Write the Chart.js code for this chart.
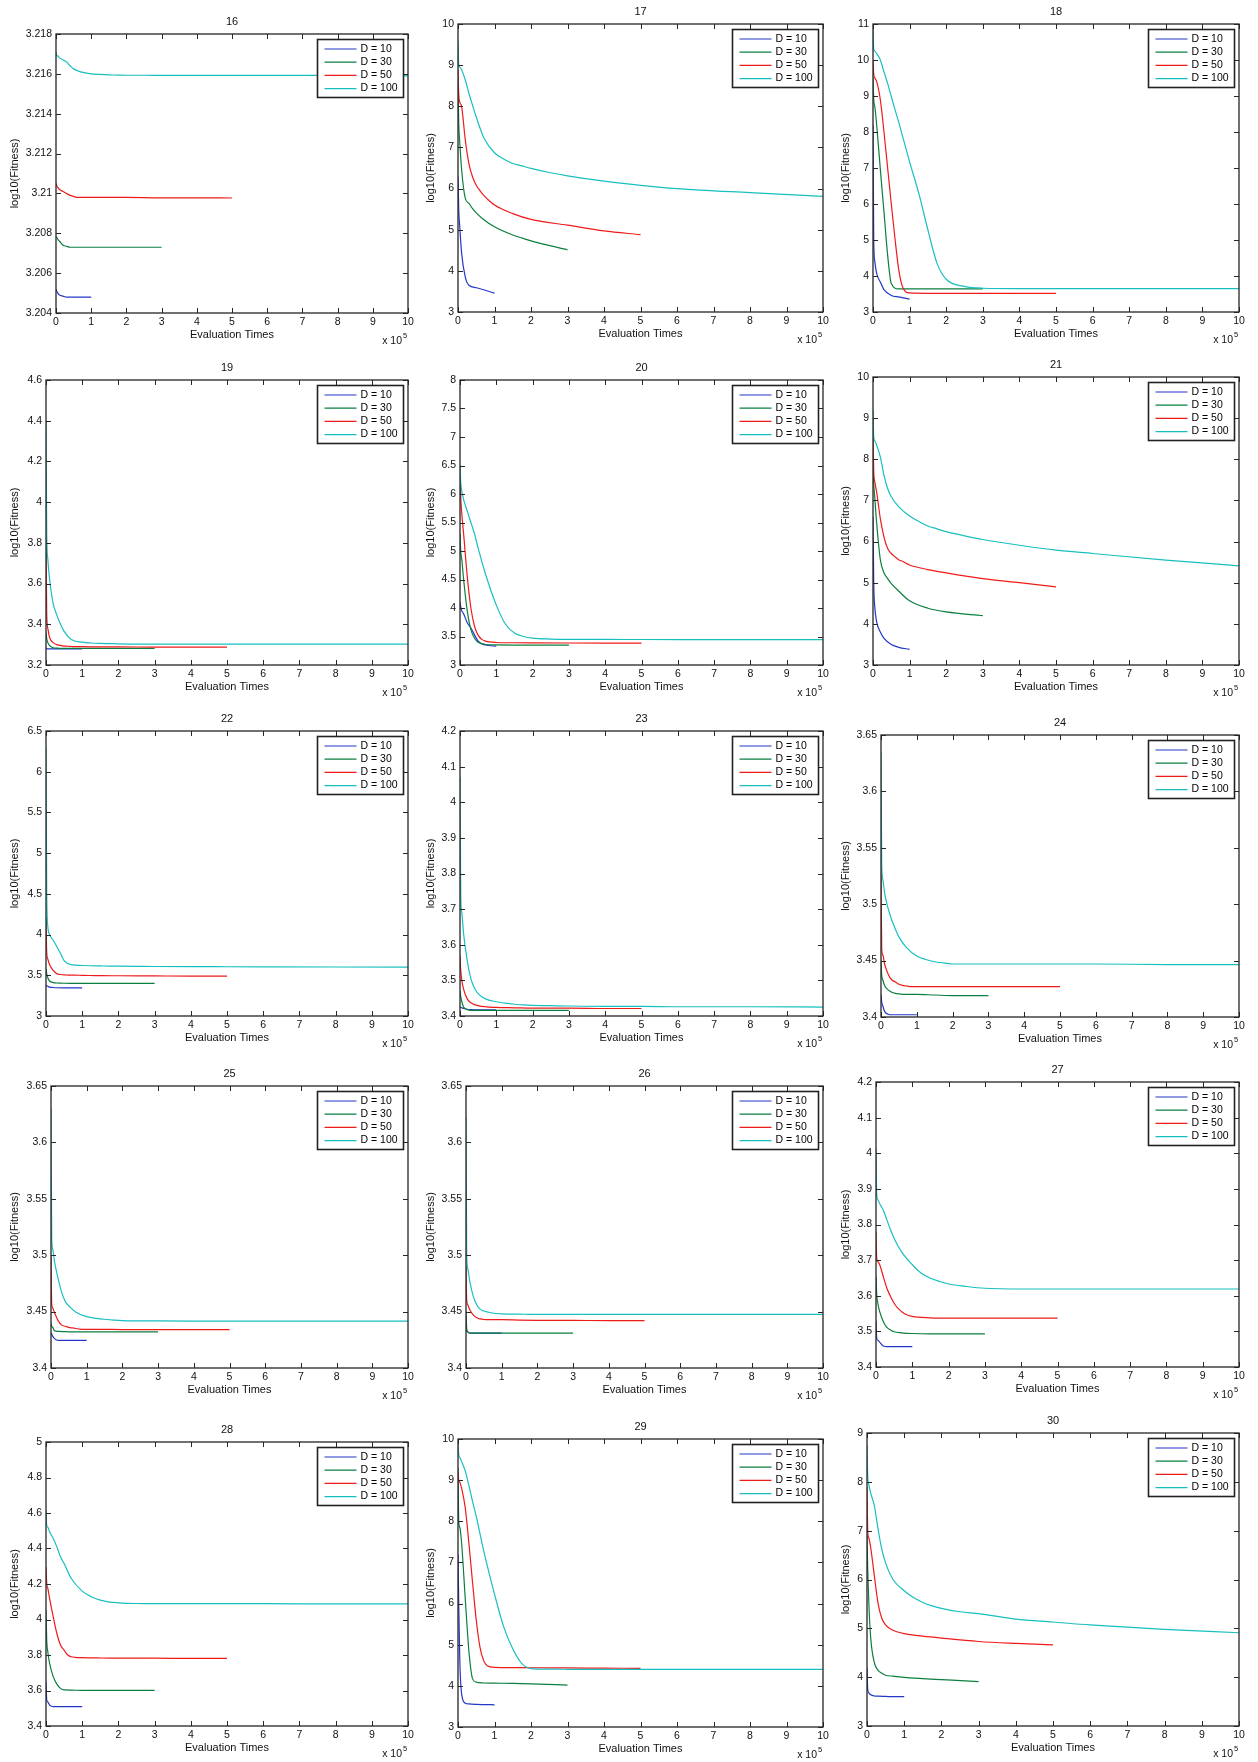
<!DOCTYPE html>
<html>
<head>
<meta charset="utf-8">
<script src="https://cdn.jsdelivr.net/npm/chart.js@4.4.0/dist/chart.umd.min.js"></script>
<style>
  body { margin: 0; background: #fff; }
  #fig { position: relative; width: 1258px; height: 1762px; overflow: hidden; }
  #fig canvas { position: absolute; }
</style>
</head>
<body>
<div id="fig"></div>
<script>
// sample points on the x axis, in units of 10^5 evaluations
const x10 = [0, 0.02, 0.05, 0.1, 0.2, 0.3, 0.5, 0.7, 1];
const x30 = [0, 0.02, 0.05, 0.1, 0.2, 0.3, 0.4, 0.5, 0.7, 1, 1.5, 2, 3];
const x50 = [0, 0.02, 0.05, 0.1, 0.2, 0.3, 0.4, 0.5, 0.6, 0.7, 0.8, 1, 1.5, 2, 3, 4, 5];
const x100 = [0, 0.02, 0.05, 0.1, 0.2, 0.3, 0.4, 0.5, 0.7, 1, 1.25, 1.5, 1.75, 2, 2.5, 3, 4, 5, 6, 8, 10];
const xTicks = [0, 1, 2, 3, 4, 5, 6, 7, 8, 9, 10];

const seriesLabels = ['D = 10', 'D = 30', 'D = 50', 'D = 100'];

// log10(Fitness)
const f16_d10 = [3.2052, 3.2051, 3.2050, 3.2049, 3.20485, 3.2048, 3.2048, 3.2048, 3.2048];
const f16_d30 = [3.2078, 3.2078, 3.2077, 3.2076, 3.2074, 3.20735, 3.2073, 3.2073, 3.2073, 3.2073, 3.2073, 3.2073, 3.2073];
const f16_d50 = [3.2105, 3.2104, 3.2103, 3.2102, 3.2101, 3.2100, 3.2099, 3.20985, 3.2098, 3.2098, 3.2098, 3.2098, 3.2098, 3.2098, 3.20978, 3.20978, 3.20977];
const f16_d100 = [3.2171, 3.2169, 3.2169, 3.2168, 3.2167, 3.2166, 3.2164, 3.21625, 3.2161, 3.2160, 3.21597, 3.21595, 3.21594, 3.21593, 3.21593, 3.21592, 3.21592, 3.21592, 3.21592, 3.21592, 3.2159];
const yt16 = [3.204, 3.206, 3.208, 3.21, 3.212, 3.214, 3.216, 3.218];

const f17_d10 = [6.3, 5.5, 5.05, 4.42, 3.85, 3.65, 3.59, 3.54, 3.46];
const f17_d30 = [8.5, 7.6, 7.1, 6.45, 5.76, 5.64, 5.51, 5.41, 5.25, 5.07, 4.87, 4.73, 4.51];
const f17_d50 = [8.9, 8.3, 8.1, 7.99, 7.18, 6.6, 6.28, 6.08, 5.95, 5.84, 5.75, 5.6, 5.39, 5.25, 5.11, 4.97, 4.88];
const f17_d100 = [9.6, 9.0, 8.95, 8.88, 8.64, 8.31, 8.02, 7.74, 7.25, 6.87, 6.72, 6.61, 6.55, 6.49, 6.39, 6.31, 6.18, 6.08, 6.0, 5.9, 5.81];
const yt17 = [3, 4, 5, 6, 7, 8, 9, 10];

const f18_d10 = [8.2, 5.0, 4.4, 4.07, 3.83, 3.62, 3.46, 3.42, 3.36];
const f18_d30 = [9.5, 8.9, 8.7, 8.2, 6.97, 5.78, 4.58, 3.79, 3.64, 3.64, 3.64, 3.64, 3.64];
const f18_d50 = [10.0, 9.6, 9.5, 9.4, 8.9, 8.0, 7.0, 6.0, 5.05, 4.2, 3.72, 3.53, 3.52, 3.52, 3.52, 3.52, 3.52];
const f18_d100 = [10.9, 10.3, 10.25, 10.18, 10.0, 9.67, 9.35, 8.98, 8.28, 7.17, 6.3, 5.28, 4.35, 3.91, 3.71, 3.66, 3.65, 3.65, 3.65, 3.65, 3.65];
const yt18 = [3, 4, 5, 6, 7, 8, 9, 10, 11];

const f19_d10 = [3.285, 3.28, 3.279, 3.279, 3.279, 3.279, 3.279, 3.279, 3.279];
const f19_d30 = [3.36, 3.33, 3.31, 3.295, 3.285, 3.283, 3.282, 3.282, 3.282, 3.282, 3.282, 3.282, 3.282];
const f19_d50 = [3.82, 3.45, 3.38, 3.335, 3.31, 3.3, 3.296, 3.293, 3.292, 3.291, 3.29, 3.29, 3.289, 3.289, 3.288, 3.288, 3.288];
const f19_d100 = [4.4, 3.85, 3.72, 3.62, 3.5, 3.445, 3.4, 3.365, 3.325, 3.312, 3.308, 3.306, 3.305, 3.304, 3.303, 3.303, 3.303, 3.303, 3.303, 3.303, 3.303];
const yt19 = [3.2, 3.4, 3.6, 3.8, 4, 4.2, 4.4, 4.6];

const f20_d10 = [4.1, 4.02, 3.95, 3.9, 3.74, 3.65, 3.42, 3.35, 3.33];
const f20_d30 = [5.3, 5.0, 4.85, 4.5, 3.95, 3.62, 3.47, 3.4, 3.36, 3.352, 3.35, 3.35, 3.35];
const f20_d50 = [6.3, 5.95, 5.65, 5.3, 4.55, 4.0, 3.68, 3.52, 3.45, 3.42, 3.405, 3.395, 3.39, 3.388, 3.386, 3.385, 3.384];
const f20_d100 = [6.5, 6.2, 6.05, 5.9, 5.7, 5.5, 5.3, 5.05, 4.6, 4.05, 3.72, 3.56, 3.5, 3.47, 3.455, 3.45, 3.448, 3.447, 3.446, 3.445, 3.445];
const yt20 = [3, 3.5, 4, 4.5, 5, 5.5, 6, 6.5, 7, 7.5, 8];

const f21_d10 = [6.6, 5.0, 4.4, 4.05, 3.8, 3.65, 3.5, 3.43, 3.38];
const f21_d30 = [7.7, 7.4, 7.05, 6.45, 5.56, 5.24, 5.1, 4.98, 4.8, 4.56, 4.38, 4.29, 4.2];
const f21_d50 = [8.6, 7.7, 7.45, 7.2, 6.56, 6.11, 5.83, 5.71, 5.63, 5.56, 5.52, 5.43, 5.32, 5.24, 5.1, 5.0, 4.9];
const f21_d100 = [9.2, 8.54, 8.45, 8.34, 8.06, 7.61, 7.29, 7.09, 6.85, 6.62, 6.49, 6.38, 6.31, 6.24, 6.14, 6.05, 5.91, 5.79, 5.71, 5.55, 5.41];
const yt21 = [3, 4, 5, 6, 7, 8, 9, 10];

const f22_d10 = [3.38, 3.37, 3.365, 3.355, 3.35, 3.347, 3.345, 3.345, 3.345];
const f22_d30 = [3.58, 3.52, 3.47, 3.43, 3.41, 3.405, 3.403, 3.402, 3.401, 3.4, 3.4, 3.4, 3.4];
const f22_d50 = [4.2, 3.78, 3.7, 3.63, 3.56, 3.52, 3.51, 3.505, 3.503, 3.502, 3.501, 3.5, 3.495, 3.494, 3.492, 3.49, 3.49];
const f22_d100 = [6.3, 4.5, 4.1, 4.0, 3.93, 3.85, 3.77, 3.68, 3.63, 3.62, 3.617, 3.615, 3.613, 3.612, 3.61, 3.608, 3.606, 3.605, 3.604, 3.602, 3.6];
const yt22 = [3, 3.5, 4, 4.5, 5, 5.5, 6, 6.5];

const f23_d10 = [3.425, 3.424, 3.423, 3.421, 3.419, 3.418, 3.417, 3.417, 3.417];
const f23_d30 = [3.47, 3.455, 3.44, 3.425, 3.418, 3.416, 3.416, 3.416, 3.416, 3.416, 3.416, 3.416, 3.416];
const f23_d50 = [3.57, 3.53, 3.5, 3.475, 3.448, 3.437, 3.432, 3.429, 3.427, 3.426, 3.425, 3.424, 3.423, 3.422, 3.422, 3.421, 3.421];
const f23_d100 = [4.07, 3.74, 3.69, 3.63, 3.555, 3.505, 3.478, 3.463, 3.448, 3.44, 3.436, 3.433, 3.431, 3.43, 3.429, 3.428, 3.427, 3.427, 3.426, 3.426, 3.425];
const yt23 = [3.4, 3.5, 3.6, 3.7, 3.8, 3.9, 4, 4.1, 4.2];

const f24_d10 = [3.42, 3.413, 3.41, 3.405, 3.4025, 3.402, 3.402, 3.402, 3.402];
const f24_d30 = [3.45, 3.437, 3.433, 3.428, 3.424, 3.422, 3.421, 3.4205, 3.42, 3.42, 3.4195, 3.419, 3.419];
const f24_d50 = [3.53, 3.46, 3.455, 3.447, 3.438, 3.433, 3.431, 3.429, 3.428, 3.4275, 3.427, 3.427, 3.427, 3.427, 3.427, 3.427, 3.427];
const f24_d100 = [3.635, 3.535, 3.522, 3.51, 3.496, 3.486, 3.478, 3.471, 3.462, 3.454, 3.451, 3.449, 3.448, 3.447, 3.447, 3.447, 3.447, 3.447, 3.447, 3.4465, 3.4465];
const yt24 = [3.4, 3.45, 3.5, 3.55, 3.6, 3.65];

const f25_d10 = [3.431, 3.43, 3.428, 3.426, 3.4245, 3.4245, 3.4245, 3.4245, 3.4245];
const f25_d30 = [3.44, 3.437, 3.436, 3.433, 3.4325, 3.4323, 3.4322, 3.4321, 3.432, 3.432, 3.432, 3.432, 3.432];
const f25_d50 = [3.5, 3.457, 3.453, 3.449, 3.442, 3.438, 3.437, 3.436, 3.4355, 3.435, 3.4345, 3.4343, 3.4342, 3.4341, 3.434, 3.434, 3.434];
const f25_d100 = [3.63, 3.515, 3.505, 3.494, 3.479, 3.467, 3.459, 3.455, 3.4495, 3.4455, 3.444, 3.4432, 3.4425, 3.442, 3.4418, 3.4417, 3.4416, 3.4416, 3.4415, 3.4415, 3.4415];
const yt25 = [3.4, 3.45, 3.5, 3.55, 3.6, 3.65];

const f26_d10 = [3.434, 3.433, 3.432, 3.431, 3.431, 3.431, 3.431, 3.431, 3.431];
const f26_d30 = [3.45, 3.435, 3.432, 3.431, 3.431, 3.431, 3.431, 3.431, 3.431, 3.431, 3.431, 3.431, 3.431];
const f26_d50 = [3.49, 3.46, 3.456, 3.452, 3.447, 3.4445, 3.4435, 3.443, 3.4428, 3.4428, 3.4428, 3.4428, 3.4425, 3.4423, 3.4422, 3.442, 3.442];
const f26_d100 = [3.622, 3.5, 3.488, 3.478, 3.464, 3.456, 3.452, 3.4505, 3.449, 3.448, 3.4478, 3.4477, 3.4476, 3.4475, 3.4475, 3.4475, 3.4475, 3.4475, 3.4475, 3.4475, 3.4475];
const yt26 = [3.4, 3.45, 3.5, 3.55, 3.6, 3.65];

const f27_d10 = [3.53, 3.48, 3.475, 3.47, 3.459, 3.457, 3.457, 3.457, 3.457];
const f27_d30 = [3.654, 3.603, 3.579, 3.556, 3.528, 3.511, 3.504, 3.499, 3.496, 3.494, 3.493, 3.493, 3.493];
const f27_d50 = [3.78, 3.705, 3.696, 3.688, 3.654, 3.621, 3.598, 3.579, 3.565, 3.556, 3.549, 3.542, 3.538, 3.537, 3.537, 3.537, 3.537];
const f27_d100 = [4.013, 3.883, 3.87, 3.859, 3.84, 3.813, 3.785, 3.761, 3.724, 3.687, 3.663, 3.649, 3.64, 3.633, 3.626, 3.621, 3.619, 3.619, 3.619, 3.619, 3.619];
const yt27 = [3.4, 3.5, 3.6, 3.7, 3.8, 3.9, 4, 4.1, 4.2];

const f28_d10 = [3.649, 3.547, 3.535, 3.518, 3.509, 3.509, 3.509, 3.509, 3.509];
const f28_d30 = [4.053, 3.884, 3.818, 3.753, 3.678, 3.636, 3.612, 3.603, 3.602, 3.601, 3.601, 3.601, 3.601];
const f28_d50 = [4.297, 4.203, 4.175, 4.118, 4.015, 3.921, 3.856, 3.828, 3.8, 3.79, 3.787, 3.785, 3.783, 3.782, 3.782, 3.781, 3.781];
const f28_d100 = [4.615, 4.531, 4.52, 4.494, 4.456, 4.409, 4.353, 4.315, 4.231, 4.16, 4.128, 4.109, 4.098, 4.094, 4.09, 4.089, 4.089, 4.089, 4.089, 4.088, 4.088];
const yt28 = [3.4, 3.6, 3.8, 4, 4.2, 4.4, 4.6, 4.8, 5];

const f29_d10 = [7.2, 6.0, 4.6, 3.8, 3.58, 3.56, 3.55, 3.545, 3.54];
const f29_d30 = [9.3, 8.0, 7.85, 7.46, 6.1, 4.83, 4.17, 4.09, 4.07, 4.065, 4.06, 4.05, 4.02];
const f29_d50 = [9.2, 9.0, 8.95, 8.8, 8.32, 7.45, 6.5, 5.6, 4.95, 4.62, 4.49, 4.45, 4.445, 4.44, 4.435, 4.43, 4.425];
const f29_d100 = [9.9, 9.62, 9.55, 9.45, 9.22, 8.86, 8.48, 8.12, 7.3, 6.23, 5.44, 4.9, 4.54, 4.42, 4.405, 4.403, 4.4, 4.4, 4.4, 4.4, 4.4];
const yt29 = [3, 4, 5, 6, 7, 8, 9, 10];

const f30_d10 = [4.2, 3.75, 3.68, 3.64, 3.615, 3.61, 3.605, 3.6, 3.6];
const f30_d30 = [6.9, 6.2, 5.5, 4.8, 4.29, 4.14, 4.08, 4.04, 4.02, 3.995, 3.97, 3.95, 3.91];
const f30_d50 = [7.9, 7.0, 6.85, 6.65, 6.06, 5.5, 5.2, 5.07, 5.0, 4.96, 4.93, 4.89, 4.84, 4.8, 4.73, 4.69, 4.66];
const f30_d100 = [8.75, 8.11, 7.94, 7.77, 7.5, 7.02, 6.61, 6.34, 6.0, 5.77, 5.63, 5.53, 5.46, 5.41, 5.34, 5.3, 5.19, 5.13, 5.07, 4.98, 4.91];
const yt30 = [3, 4, 5, 6, 7, 8, 9];

const panels = [
  { title: '16', yTicks: yt16, ys: [f16_d10, f16_d30, f16_d50, f16_d100] },
  { title: '17', yTicks: yt17, ys: [f17_d10, f17_d30, f17_d50, f17_d100] },
  { title: '18', yTicks: yt18, ys: [f18_d10, f18_d30, f18_d50, f18_d100] },
  { title: '19', yTicks: yt19, ys: [f19_d10, f19_d30, f19_d50, f19_d100] },
  { title: '20', yTicks: yt20, ys: [f20_d10, f20_d30, f20_d50, f20_d100] },
  { title: '21', yTicks: yt21, ys: [f21_d10, f21_d30, f21_d50, f21_d100] },
  { title: '22', yTicks: yt22, ys: [f22_d10, f22_d30, f22_d50, f22_d100] },
  { title: '23', yTicks: yt23, ys: [f23_d10, f23_d30, f23_d50, f23_d100] },
  { title: '24', yTicks: yt24, ys: [f24_d10, f24_d30, f24_d50, f24_d100] },
  { title: '25', yTicks: yt25, ys: [f25_d10, f25_d30, f25_d50, f25_d100] },
  { title: '26', yTicks: yt26, ys: [f26_d10, f26_d30, f26_d50, f26_d100] },
  { title: '27', yTicks: yt27, ys: [f27_d10, f27_d30, f27_d50, f27_d100] },
  { title: '28', yTicks: yt28, ys: [f28_d10, f28_d30, f28_d50, f28_d100] },
  { title: '29', yTicks: yt29, ys: [f29_d10, f29_d30, f29_d50, f29_d100] },
  { title: '30', yTicks: yt30, ys: [f30_d10, f30_d30, f30_d50, f30_d100] }
];

// layout: plot rectangles on the page (left, top, right, bottom)
const plotBoxes = [
  [56, 34, 408, 313], [458, 24, 823, 312], [873, 24, 1239, 312],
  [46, 380, 408, 665], [460, 380, 823, 665], [873, 377, 1239, 665],
  [46, 731, 408, 1016], [460, 731, 823, 1016], [881, 735, 1239, 1017],
  [51, 1086, 408, 1368], [466, 1086, 823, 1368], [876, 1082, 1239, 1367],
  [46, 1442, 408, 1726], [458, 1439, 823, 1727], [867, 1433, 1239, 1726]
];
const colLeft = [6, 422, 837];
const xGrids = [x10, x30, x50, x100];
const lineColors = ['#2238c8', '#0b7f3f', '#f01a1a', '#18bfbf'];
const FONT = "'Liberation Sans', Arial, Helvetica, sans-serif";

Chart.defaults.font.family = FONT;
Chart.defaults.color = '#111';

const fmt = v => String(+v.toFixed(4));

// MATLAB-style axes: box, inward ticks, exponent note, boxed legend
const matlabAxes = {
  id: 'matlabAxes',
  afterDatasetsDraw(chart) {
    const ctx = chart.ctx, a = chart.chartArea;
    const xs = chart.scales.x, ys = chart.scales.y;
    ctx.save();
    ctx.strokeStyle = '#262626';
    ctx.lineWidth = 1;
    ctx.beginPath();
    xs.ticks.forEach(t => {
      const px = Math.round(xs.getPixelForValue(t.value)) + 0.5;
      ctx.moveTo(px, a.bottom); ctx.lineTo(px, a.bottom - 5);
      ctx.moveTo(px, a.top); ctx.lineTo(px, a.top + 5);
    });
    ys.ticks.forEach(t => {
      const py = Math.round(ys.getPixelForValue(t.value)) + 0.5;
      ctx.moveTo(a.left, py); ctx.lineTo(a.left + 5, py);
      ctx.moveTo(a.right, py); ctx.lineTo(a.right - 5, py);
    });
    ctx.stroke();
    ctx.lineWidth = 1.3;
    ctx.strokeRect(a.left, a.top, a.right - a.left, a.bottom - a.top);

    ctx.fillStyle = '#111';
    ctx.textBaseline = 'middle';
    ctx.textAlign = 'right';
    ctx.font = '10.5px ' + FONT;
    ctx.fillText('x 10', a.right - 6, a.bottom + 28);
    ctx.textAlign = 'left';
    ctx.font = '7.5px ' + FONT;
    ctx.fillText('5', a.right - 5, a.bottom + 23);
    ctx.restore();
  },
  afterDraw(chart) {
    const ctx = chart.ctx, a = chart.chartArea;
    const w = 86, h = 58;
    const lx = Math.round(a.right - 5 - w) + 0.5, ly = Math.round(a.top + 5) + 0.5;
    ctx.save();
    ctx.fillStyle = '#fff';
    ctx.fillRect(lx, ly, w, h);
    ctx.strokeStyle = '#222';
    ctx.lineWidth = 1.6;
    ctx.strokeRect(lx, ly, w, h);
    ctx.font = '10.5px ' + FONT;
    ctx.textBaseline = 'middle';
    ctx.textAlign = 'left';
    chart.data.datasets.forEach((ds, i) => {
      const yy = ly + 9.5 + i * 13.2;
      ctx.strokeStyle = ds.borderColor;
      ctx.lineWidth = 1.2;
      ctx.beginPath();
      ctx.moveTo(lx + 7, yy);
      ctx.lineTo(lx + 39, yy);
      ctx.stroke();
      ctx.fillStyle = '#000';
      ctx.fillText(ds.label, lx + 43, yy);
    });
    ctx.restore();
  }
};

const fig = document.getElementById('fig');

panels.forEach((p, k) => {
  const [L, T, R, B] = plotBoxes[k];
  const cl = colLeft[k % 3];
  const canvas = document.createElement('canvas');
  const cw = R + 16 - cl, ch = B - T + 57;
  canvas.width = cw;
  canvas.height = ch;
  canvas.style.left = cl + 'px';
  canvas.style.top = (T - 19) + 'px';
  canvas.style.width = cw + 'px';
  canvas.style.height = ch + 'px';
  fig.appendChild(canvas);

  const datasets = p.ys.map((ys, i) => ({
    label: seriesLabels[i],
    data: xGrids[i].map((x, j) => ({ x: x, y: ys[j] })),
    borderColor: lineColors[i],
    borderWidth: 1.2,
    pointRadius: 0,
    fill: false,
    cubicInterpolationMode: 'monotone',
    order: 4 - i
  }));

  const yt = p.yTicks;

  new Chart(canvas, {
    type: 'line',
    data: { datasets: datasets },
    plugins: [matlabAxes],
    options: {
      responsive: false,
      animation: false,
      events: [],
      layout: { padding: { left: 0, top: 0, right: 16, bottom: 0 } },
      plugins: {
        legend: { display: false },
        tooltip: { enabled: false },
        title: {
          display: true,
          text: p.title,
          fullSize: false,
          color: '#111',
          font: { size: 11, weight: 'normal', lineHeight: '14px' },
          padding: { top: 0, bottom: 5 }
        }
      },
      scales: {
        x: {
          type: 'linear',
          min: 0,
          max: 10,
          grid: { display: false, drawTicks: false },
          border: { display: false },
          afterBuildTicks: s => { s.ticks = xTicks.map(v => ({ value: v })); },
          afterFit: s => { s.height = 38; },
          ticks: {
            autoSkip: false, maxRotation: 0, padding: 3,
            font: { size: 10.5 }, color: '#111',
            callback: v => fmt(v)
          },
          title: {
            display: true, text: 'Evaluation Times', color: '#111',
            font: { size: 11, lineHeight: '14px' },
            padding: { top: 0, bottom: 9 }
          }
        },
        y: {
          type: 'linear',
          min: yt[0],
          max: yt[yt.length - 1],
          grid: { display: false, drawTicks: false },
          border: { display: false },
          afterBuildTicks: s => { s.ticks = yt.map(v => ({ value: v })); },
          afterFit: s => { s.width = L - cl; },
          ticks: {
            autoSkip: false, padding: 4,
            font: { size: 10.5 }, color: '#111',
            callback: v => fmt(v)
          },
          title: {
            display: true, text: 'log10(Fitness)', color: '#111',
            font: { size: 11, lineHeight: '14px' },
            padding: { top: 2, bottom: 0 }
          }
        }
      }
    }
  });
});
</script>
</body>
</html>
